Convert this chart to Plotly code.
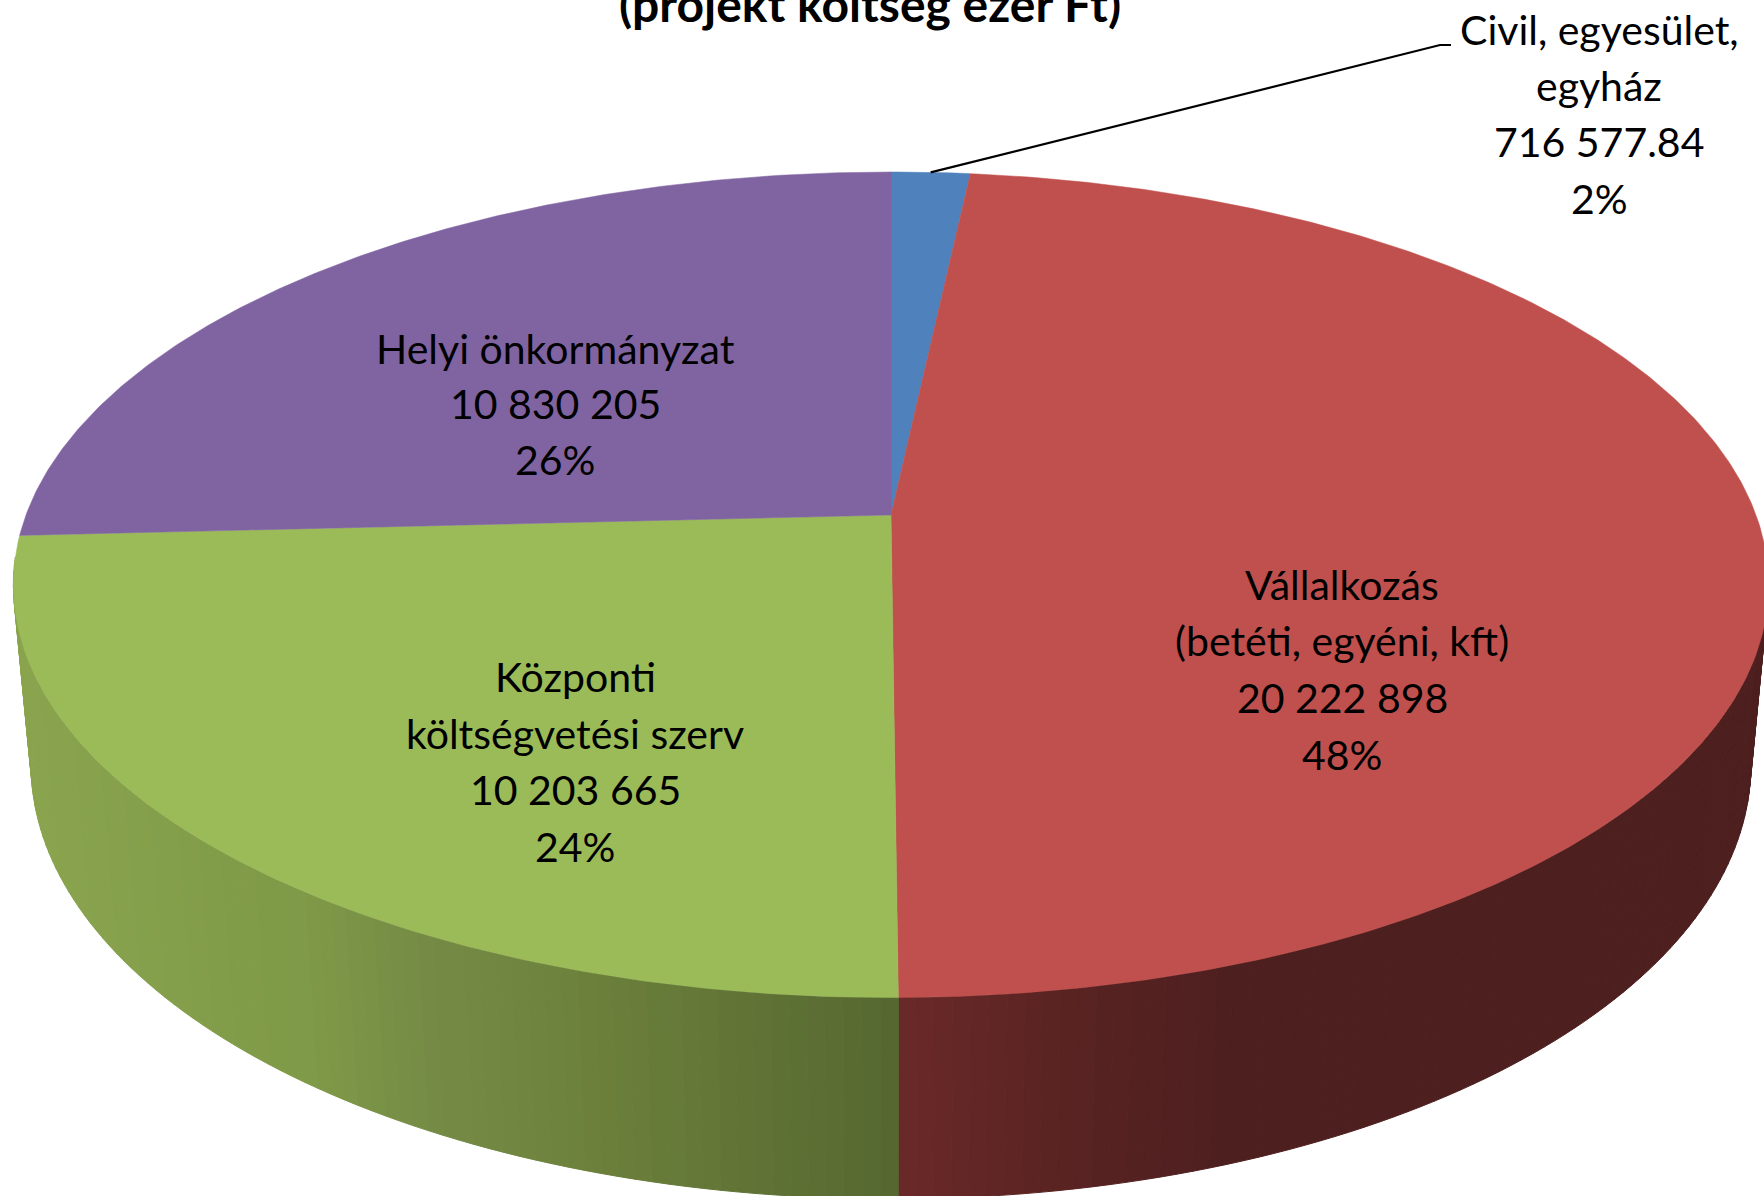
import numpy as np
import plotly.graph_objects as go

# --- data ---
categories = ["Civil, egyesület, egyház", "Vállalkozás (betéti, egyéni, kft)",
              "Központi költségvetési szerv", "Helyi önkormányzat"]
values = [716577.84, 20222898, 10203665, 10830205]
value_labels = ["716 577.84", "20 222 898", "10 203 665", "10 830 205"]
percent_labels = ["2%", "48%", "24%", "26%"]
name_lines = [["Civil, egyesület,", "egyház"], ["Vállalkozás", "(betéti, egyéni, kft)"],
              ["Központi", "költségvetési szerv"], ["Helyi önkormányzat"]]
title_line = "(projekt költség ezer Ft)"

# --- styles / layout ---
top_colors = ["#4F81BD", "#C0504D", "#9BBB59", "#8064A2"]
side_stops = [
    [(0, "#2F4D71"), (1764, "#2F4D71")],
    [(898, "#6A2A29"), (1060, "#5A2423"), (1240, "#4E1F1F"), (1764, "#4E1F1F")],
    [(0, "#8BA54F"), (300, "#7F9A48"), (420, "#768C46"), (600, "#6C803C"), (898, "#566830")],
    [(0, "#4D3C61"), (1764, "#4D3C61")],
]
label_x = [1599, 1342, 575, 555]
label_y = [[29, 85, 141, 198], [584, 640, 697, 754], [676, 733, 789, 846], [348, 403, 459]]
font_family = "Lato"
label_size = 41
title_size = 48

CX, CY = 891.0, 515.0     # pie centre on screen
A, B, K = 865.0, 401.0, 0.169   # perspective of the top disc
M, VY = 0.02, 9050.0      # thickness of the pie


def project(theta, bottom=False):
    X, Y = np.sin(theta), -np.cos(theta)
    m = M if bottom else 0.0
    w = 1 - K * Y + m
    return CX + A * X / w, CY + (B * Y + m * VY) / w


def hex_rgb(h):
    return np.array([int(h[i:i + 2], 16) for i in (1, 3, 5)], float)


def side_colour(stops, x):
    xs = [s[0] for s in stops]
    cs = np.array([hex_rgb(s[1]) for s in stops])
    return "rgb(%d,%d,%d)" % tuple(np.interp(x, xs, cs[:, i]) for i in range(3))


edges = np.concatenate([[0], np.cumsum(values)]) / np.sum(values) * 2 * np.pi
fig = go.Figure()

# side walls (only the part that faces the viewer)
for i in range(len(values)):
    a0, a1 = edges[i], edges[i + 1]
    n = max(2, int((a1 - a0) / np.radians(1.0)))
    ts = np.linspace(a0, a1, n + 1)
    for t0, t1 in zip(ts[:-1], ts[1:]):
        if -np.cos((t0 + t1) / 2) < 0.1:
            continue
        seg = np.linspace(t0, t1, 3)
        xt, yt = project(seg)
        xb, yb = project(seg[::-1], bottom=True)
        col = side_colour(side_stops[i], float(np.mean(xt)))
        fig.add_trace(go.Scatter(x=np.r_[xt, xb, xt[0]], y=np.r_[yt, yb, yt[0]], mode="lines",
                                 fill="toself", fillcolor=col, line=dict(color=col, width=1),
                                 hoverinfo="skip", showlegend=False))

# top face
for i in range(len(values)):
    n = max(8, int((edges[i + 1] - edges[i]) / np.radians(0.5)))
    x, y = project(np.linspace(edges[i], edges[i + 1], n))
    fig.add_trace(go.Scatter(x=np.r_[CX, x, CX], y=np.r_[CY, y, CY], mode="lines", fill="toself",
                             fillcolor=top_colors[i], line=dict(color=top_colors[i], width=0.5),
                             name=categories[i], hoverinfo="skip", showlegend=False))

# leader line
lx, ly = project(np.array([(edges[0] + edges[1]) / 2]))
fig.add_trace(go.Scatter(x=[lx[0], 1440, 1451], y=[ly[0], 45, 45], mode="lines",
                         line=dict(color="#000000", width=2.2), hoverinfo="skip", showlegend=False))

annotations = []
for i in range(len(values)):
    lines = name_lines[i] + [value_labels[i], percent_labels[i]]
    for txt, yy in zip(lines, label_y[i]):
        annotations.append(dict(x=label_x[i], y=yy, xref="x", yref="y", text=txt, showarrow=False,
                                xanchor="center", yanchor="middle",
                                font=dict(family=font_family, size=label_size, color="#000000")))
annotations.append(dict(x=870, y=3, xref="x", yref="y", text="<b>%s</b>" % title_line, showarrow=False,
                        xanchor="center", yanchor="middle",
                        font=dict(family=font_family, size=title_size, color="#000000")))

fig.update_layout(width=1764, height=1196, margin=dict(l=0, r=0, t=0, b=0),
                  paper_bgcolor="#FFFFFF", plot_bgcolor="#FFFFFF", annotations=annotations,
                  xaxis=dict(range=[0, 1764], visible=False, fixedrange=True),
                  yaxis=dict(range=[1196, 0], visible=False, fixedrange=True))
fig.write_html("out.html", config=dict(displayModeBar=False),
               post_script="document.body.style.margin='0';document.body.style.overflow='hidden';")
